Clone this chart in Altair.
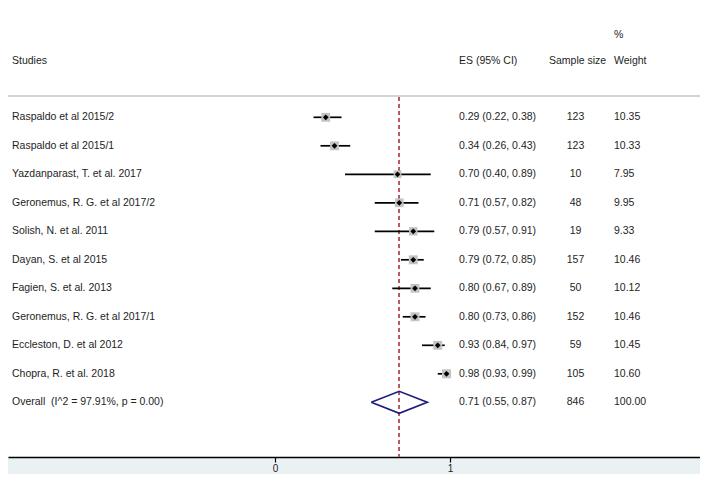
import altair as alt
import pandas as pd

# ---------------- data ----------------
studies = [
    "Raspaldo et al 2015/2",
    "Raspaldo et al 2015/1",
    "Yazdanparast, T. et al. 2017",
    "Geronemus, R. G. et al 2017/2",
    "Solish, N. et al. 2011",
    "Dayan, S. et al 2015",
    "Fagien, S. et al. 2013",
    "Geronemus, R. G. et al 2017/1",
    "Eccleston, D. et al 2012",
    "Chopra, R. et al. 2018",
]
es = [0.29, 0.34, 0.70, 0.71, 0.79, 0.79, 0.80, 0.80, 0.93, 0.98]
lo = [0.22, 0.26, 0.40, 0.57, 0.57, 0.72, 0.67, 0.73, 0.84, 0.93]
hi = [0.38, 0.43, 0.89, 0.82, 0.91, 0.85, 0.89, 0.86, 0.97, 0.99]
sample_size = [123, 123, 10, 48, 19, 157, 50, 152, 59, 105]
weight = [10.35, 10.33, 7.95, 9.95, 9.33, 10.46, 10.12, 10.46, 10.45, 10.60]

overall_label = "Overall\u00a0 (I^2 = 97.91%, p = 0.00)"
overall_es = 0.71
overall_lo = 0.55
overall_hi = 0.87
overall_n = 846
overall_weight = 100.00

x_ticks = [0, 1]

# ---------------- tables ----------------
rows = list(range(len(studies)))
overall_row = len(studies)

studies_df = pd.DataFrame({
    "row": rows, "study": studies, "es": es, "lo": lo, "hi": hi,
    "n": sample_size, "weight": weight,
})

text_df = pd.DataFrame({
    "row": rows + [overall_row],
    "study": studies + [overall_label],
    "es_txt": [f"{e:.2f} ({l:.2f}, {h:.2f})" for e, l, h in zip(es, lo, hi)]
    + [f"{overall_es:.2f} ({overall_lo:.2f}, {overall_hi:.2f})"],
    "n_txt": [str(v) for v in sample_size] + [str(overall_n)],
    "w_txt": [f"{v:.2f}" for v in weight] + [f"{overall_weight:.2f}"],
})

half_h = 0.385
diamond_df = pd.DataFrame({
    "x": [overall_lo, overall_es, overall_hi, overall_es, overall_lo],
    "y": [overall_row, overall_row - half_h, overall_row, overall_row + half_h, overall_row],
    "o": [0, 1, 2, 3, 4],
})

# ---------------- scales ----------------
W, H = 692, 449
FONT = "Liberation Sans"
FS = 10.5
TXT = "#1e1e1e"

x_scale = alt.Scale(domain=[-267 / 175, (W - 267) / 175], nice=False, zero=False)
y_scale = alt.Scale(domain=[-109.3 / 28.5, (H - 109.3) / 28.5], nice=False, zero=False, reverse=True)

x_axis = alt.Axis(
    values=x_ticks, grid=False, title=None, domainColor="black", domainWidth=1.6,
    tickColor="black", tickWidth=1.2, tickSize=5, labelFontSize=10, labelColor=TXT,
    labelFont=FONT, labelPadding=1, format="d",
)

base = alt.Chart(studies_df)

sep = alt.Chart(studies_df).mark_rule(color="#d3d3d3", strokeWidth=2).encode(
    x=alt.value(0), x2=alt.value(W), y=alt.value(88)
)

ref_line = alt.Chart(studies_df).mark_rule(
    color="#bf5562", strokeDash=[4, 3], strokeWidth=1.1
).encode(
    x=alt.datum(overall_es, scale=x_scale, axis=x_axis), y=alt.value(89), y2=alt.value(H)
)

ci = base.mark_rule(color="black", strokeWidth=1.7).encode(
    x=alt.X("lo:Q", scale=x_scale, axis=x_axis),
    x2="hi:Q",
    y=alt.Y("row:Q", scale=y_scale, axis=None),
)

squares = base.transform_calculate(sq="datum.weight * 7.6").mark_square(
    color="#c3c3c3", opacity=1
).encode(
    x=alt.X("es:Q", scale=x_scale),
    y=alt.Y("row:Q", scale=y_scale),
    size=alt.Size("sq:Q", scale=None, legend=None),
)

points = base.mark_point(shape="diamond", filled=True, color="black", opacity=1, size=34).encode(
    x=alt.X("es:Q", scale=x_scale),
    y=alt.Y("row:Q", scale=y_scale),
)

diamond = alt.Chart(diamond_df).mark_line(color="#1d1d7a", strokeWidth=1.7).encode(
    x=alt.X("x:Q", scale=x_scale),
    y=alt.Y("y:Q", scale=y_scale),
    order="o:Q",
)

tbase = alt.Chart(text_df)
tprops = dict(font=FONT, fontSize=FS, color=TXT, baseline="middle")

lab_study = tbase.mark_text(align="left", **tprops).encode(
    x=alt.value(4), y=alt.Y("row:Q", scale=y_scale), text="study:N"
)
lab_es = tbase.mark_text(align="left", **tprops).encode(
    x=alt.value(451), y=alt.Y("row:Q", scale=y_scale), text="es_txt:N"
)
lab_n = tbase.mark_text(align="center", **tprops).encode(
    x=alt.value(567.5), y=alt.Y("row:Q", scale=y_scale), text="n_txt:N"
)
lab_w = tbase.mark_text(align="left", **tprops).encode(
    x=alt.value(606), y=alt.Y("row:Q", scale=y_scale), text="w_txt:N"
)

headers_df = pd.DataFrame({
    "label": ["Studies", "ES (95% CI)", "Sample size", "Weight", "%"],
    "hx": [4, 451, 541, 606, 606],
    "hy": [53, 53, 53, 53, 27],
})
headers = alt.Chart(headers_df).mark_text(align="left", **tprops).encode(
    x=alt.X("hx:Q", scale=None), y=alt.Y("hy:Q", scale=None), text="label:N"
)

chart = alt.layer(
    sep, ref_line, ci, squares, points, diamond,
    lab_study, lab_es, lab_n, lab_w, headers,
).properties(
    width=W, height=H,
    padding={"left": 0, "top": 0, "right": 0, "bottom": 17},
    autosize=alt.AutoSizeParams(type="none"),
    background="#eaf1f2",
).configure_view(
    stroke=None, fill="white"
)

chart.save("out.html", embed_options={"renderer": "svg", "actions": False})
